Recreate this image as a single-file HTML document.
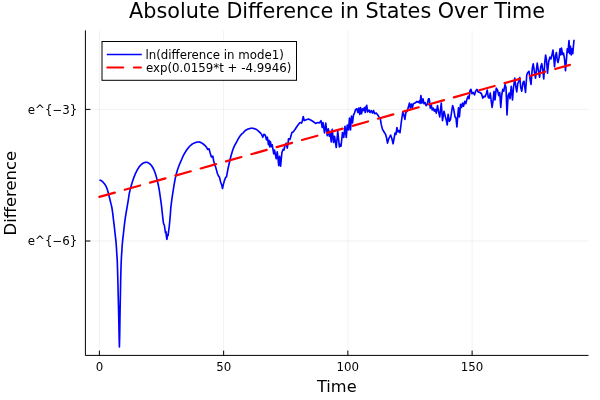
<!DOCTYPE html>
<html><head><meta charset="utf-8"><title>Absolute Difference in States Over Time</title>
<style>
html,body{margin:0;padding:0;background:#fff;}
svg{display:block;}
text{font-family:"DejaVu Sans","Liberation Sans",sans-serif;fill:#000;}
</style></head><body>
<svg width="600" height="400" viewBox="0 0 600 400">
<rect width="600" height="400" fill="#fff"/>

<g stroke="#000" stroke-opacity="0.1" stroke-width="0.55" fill="none">
<line x1="99.40" y1="30.4" x2="99.40" y2="355.4"/>
<line x1="223.64" y1="30.4" x2="223.64" y2="355.4"/>
<line x1="347.87" y1="30.4" x2="347.87" y2="355.4"/>
<line x1="472.11" y1="30.4" x2="472.11" y2="355.4"/>
<line x1="85.4" y1="109.4" x2="588.5" y2="109.4"/>
<line x1="85.4" y1="241.0" x2="588.5" y2="241.0"/>
</g>
<g stroke="#000" stroke-width="1" fill="none">
<line x1="85.4" y1="355.4" x2="588.5" y2="355.4"/>
<line x1="85.4" y1="30.4" x2="85.4" y2="355.4"/>
<line x1="99.40" y1="355.4" x2="99.40" y2="350.60"/>
<line x1="223.64" y1="355.4" x2="223.64" y2="350.60"/>
<line x1="347.87" y1="355.4" x2="347.87" y2="350.60"/>
<line x1="472.11" y1="355.4" x2="472.11" y2="350.60"/>
<line x1="85.4" y1="109.4" x2="90.4" y2="109.4"/>
<line x1="85.4" y1="241.0" x2="90.4" y2="241.0"/>
</g>
<text x="99.40" y="371.45" font-size="11.8" text-anchor="middle">0</text>
<text x="223.64" y="371.45" font-size="11.8" text-anchor="middle">50</text>
<text x="347.87" y="371.45" font-size="11.8" text-anchor="middle">100</text>
<text x="472.11" y="371.45" font-size="11.8" text-anchor="middle">150</text>
<text x="77.3" y="113.60" font-size="11.8" text-anchor="end">e^{−3}</text>
<text x="77.3" y="245.20" font-size="11.8" text-anchor="end">e^{−6}</text>
<text x="336.8" y="391.7" font-size="16.2" text-anchor="middle">Time</text>
<text transform="translate(15.9,193.2) rotate(-90)" font-size="16.4" text-anchor="middle">Difference</text>
<text x="337.1" y="18.1" font-size="20.75" text-anchor="middle">Absolute Difference in States Over Time</text>
<polyline points="99.50,180.00 99.84,180.12 100.17,180.24 100.51,180.35 100.85,180.47 101.18,180.62 101.50,180.80 101.86,181.06 102.21,181.36 102.55,181.69 102.88,182.03 103.20,182.37 103.50,182.70 103.74,182.97 103.97,183.23 104.19,183.49 104.40,183.75 104.60,184.02 104.80,184.30 105.00,184.59 105.19,184.88 105.37,185.17 105.55,185.47 105.73,185.78 105.90,186.10 106.08,186.46 106.26,186.84 106.43,187.22 106.59,187.61 106.75,188.01 106.90,188.40 107.05,188.79 107.18,189.18 107.32,189.58 107.45,189.98 107.57,190.38 107.70,190.80 107.84,191.26 107.97,191.74 108.11,192.22 108.24,192.71 108.37,193.20 108.50,193.70 108.63,194.21 108.76,194.72 108.89,195.24 109.02,195.77 109.16,196.32 109.30,196.90 109.50,197.72 109.71,198.61 109.94,199.54 110.16,200.48 110.38,201.41 110.60,202.30 110.80,203.09 111.00,203.87 111.20,204.63 111.39,205.39 111.58,206.18 111.75,207.00 111.93,207.98 112.10,208.99 112.26,210.02 112.41,211.08 112.56,212.14 112.70,213.20 112.84,214.32 112.98,215.45 113.11,216.59 113.24,217.73 113.37,218.87 113.50,220.00 113.63,221.11 113.77,222.21 113.90,223.31 114.04,224.41 114.17,225.51 114.30,226.60 114.42,227.66 114.53,228.70 114.65,229.74 114.76,230.79 114.88,231.87 115.00,233.00 115.16,234.41 115.33,235.87 115.51,237.37 115.68,238.91 115.85,240.45 116.00,242.00 116.14,243.65 116.27,245.33 116.38,247.04 116.49,248.73 116.60,250.39 116.70,252.00 116.79,253.36 116.88,254.64 116.96,255.90 117.05,257.18 117.12,258.53 117.20,260.00 117.30,262.20 117.38,264.57 117.47,267.07 117.55,269.67 117.62,272.32 117.70,275.00 117.79,278.17 117.87,281.45 117.96,284.82 118.04,288.23 118.12,291.63 118.20,295.00 118.28,298.33 118.37,301.67 118.46,305.00 118.54,308.33 118.62,311.67 118.70,315.00 118.77,318.33 118.84,321.67 118.91,325.00 118.97,328.33 119.03,331.67 119.10,335.00 119.40,346.90 119.70,335.00 119.75,331.67 119.80,328.33 119.84,325.00 119.89,321.67 119.94,318.33 120.00,315.00 120.06,311.67 120.13,308.33 120.19,305.00 120.26,301.67 120.33,298.33 120.40,295.00 120.46,291.63 120.53,288.23 120.59,284.82 120.65,281.45 120.72,278.17 120.80,275.00 120.87,272.34 120.95,269.73 121.02,267.18 121.11,264.70 121.20,262.30 121.30,260.00 121.39,258.20 121.48,256.48 121.58,254.80 121.69,253.18 121.79,251.58 121.90,250.00 121.99,248.62 122.08,247.28 122.18,245.97 122.27,244.67 122.38,243.35 122.50,242.00 122.64,240.55 122.80,239.10 122.96,237.64 123.14,236.14 123.32,234.60 123.50,233.00 123.73,230.95 123.96,228.78 124.21,226.54 124.46,224.29 124.73,222.09 125.00,220.00 125.25,218.26 125.51,216.57 125.78,214.92 126.05,213.28 126.32,211.65 126.60,210.00 126.88,208.31 127.18,206.59 127.48,204.87 127.77,203.17 128.04,201.54 128.30,200.00 128.48,198.84 128.63,197.75 128.77,196.70 128.92,195.66 129.09,194.60 129.30,193.50 129.58,192.20 129.89,190.87 130.22,189.51 130.57,188.15 130.94,186.81 131.30,185.50 131.64,184.30 131.99,183.12 132.34,181.95 132.71,180.79 133.09,179.65 133.50,178.50 133.92,177.36 134.36,176.21 134.82,175.07 135.29,173.95 135.79,172.86 136.30,171.80 136.79,170.85 137.29,169.91 137.81,168.99 138.35,168.11 138.91,167.27 139.50,166.50 140.04,165.86 140.59,165.25 141.17,164.68 141.76,164.15 142.37,163.69 143.00,163.30 143.59,163.00 144.21,162.73 144.84,162.52 145.47,162.36 146.10,162.29 146.70,162.30 147.28,162.41 147.85,162.61 148.41,162.88 148.96,163.21 149.49,163.59 150.00,164.00 150.56,164.53 151.10,165.13 151.61,165.79 152.09,166.50 152.56,167.24 153.00,168.00 153.46,168.87 153.89,169.79 154.30,170.75 154.68,171.74 155.04,172.76 155.40,173.80 155.79,175.02 156.17,176.29 156.52,177.59 156.86,178.91 157.19,180.22 157.50,181.50 157.78,182.68 158.05,183.84 158.30,184.99 158.54,186.14 158.78,187.31 159.00,188.50 159.22,189.80 159.43,191.11 159.63,192.45 159.82,193.79 160.01,195.15 160.20,196.50 160.40,197.89 160.61,199.29 160.81,200.69 161.01,202.10 161.21,203.54 161.40,205.00 161.60,206.63 161.79,208.31 161.97,210.02 162.15,211.72 162.32,213.39 162.50,215.00 162.65,216.39 162.81,217.73 162.95,219.06 163.10,220.37 163.25,221.68 163.40,223.00 164.40,225.50 165.50,233.00 166.00,231.80 166.40,236.50 166.90,239.30 167.60,234.50 168.10,235.50 168.70,230.50 169.30,226.00 169.47,224.14 169.65,222.24 169.83,220.35 170.00,218.48 170.16,216.69 170.30,215.00 170.39,213.76 170.47,212.59 170.54,211.47 170.61,210.36 170.69,209.21 170.80,208.00 170.96,206.49 171.14,204.91 171.34,203.29 171.56,201.65 171.78,200.02 172.00,198.40 172.23,196.78 172.47,195.12 172.72,193.47 172.97,191.85 173.22,190.28 173.45,188.80 173.63,187.67 173.80,186.59 173.98,185.55 174.15,184.53 174.32,183.52 174.50,182.50 174.68,181.52 174.85,180.55 175.03,179.58 175.22,178.63 175.41,177.70 175.60,176.80 175.77,176.04 175.95,175.31 176.13,174.60 176.31,173.90 176.50,173.20 176.70,172.50 176.90,171.81 177.10,171.14 177.31,170.47 177.53,169.79 177.76,169.11 178.00,168.40 178.30,167.55 178.63,166.67 178.97,165.77 179.32,164.88 179.67,164.02 180.00,163.20 180.27,162.56 180.54,161.94 180.81,161.35 181.08,160.76 181.34,160.18 181.60,159.60 181.83,159.05 182.05,158.51 182.26,157.98 182.48,157.44 182.72,156.89 183.00,156.30 183.42,155.47 183.89,154.58 184.40,153.66 184.93,152.74 185.47,151.84 186.00,151.00 186.48,150.28 186.97,149.57 187.46,148.89 187.96,148.23 188.48,147.60 189.00,147.00 189.48,146.48 189.97,145.98 190.46,145.51 190.97,145.06 191.48,144.64 192.00,144.25 192.48,143.93 192.98,143.63 193.48,143.37 193.98,143.12 194.49,142.90 195.00,142.70 195.50,142.53 196.00,142.37 196.51,142.23 197.01,142.12 197.51,142.04 198.00,142.00 198.43,142.00 198.86,142.03 199.29,142.09 199.70,142.17 200.11,142.28 200.50,142.40 200.86,142.54 201.20,142.70 201.53,142.88 201.85,143.08 202.18,143.29 202.50,143.50 202.84,143.74 203.18,143.99 203.51,144.25 203.85,144.52 204.17,144.81 204.50,145.10 204.84,145.43 205.18,145.77 205.51,146.12 205.84,146.48 206.17,146.85 206.50,147.20 207.60,149.40 209.10,148.90 210.60,154.60 211.40,157.00 212.80,156.20 213.75,161.25 215.60,166.90 217.50,173.75 218.75,176.40 219.40,177.00 220.60,181.90 221.90,185.60 222.50,188.50 223.40,184.40 224.40,180.60 225.60,177.50 226.50,176.90 227.75,170.00 228.02,168.75 228.29,167.50 228.56,166.25 228.84,165.00 229.11,163.75 229.40,162.50 229.69,161.25 229.98,160.00 230.27,158.74 230.58,157.49 230.90,156.24 231.25,155.00 231.63,153.72 232.02,152.41 232.44,151.11 232.86,149.84 233.30,148.62 233.75,147.50 234.12,146.68 234.50,145.90 234.89,145.15 235.27,144.44 235.65,143.76 236.00,143.10 236.26,142.60 236.51,142.13 236.75,141.68 236.99,141.23 237.24,140.78 237.50,140.30 237.81,139.73 238.14,139.13 238.48,138.51 238.82,137.91 239.16,137.33 239.50,136.80 239.78,136.39 240.06,136.00 240.33,135.63 240.62,135.28 240.90,134.94 241.20,134.60 241.49,134.30 241.78,134.01 242.09,133.74 242.39,133.47 242.70,133.19 243.00,132.90 243.32,132.56 243.64,132.20 243.97,131.83 244.29,131.47 244.64,131.12 245.00,130.80 245.39,130.51 245.79,130.23 246.21,129.97 246.64,129.73 247.07,129.50 247.50,129.30 247.91,129.13 248.33,128.97 248.75,128.83 249.17,128.71 249.59,128.60 250.00,128.50 250.38,128.41 250.76,128.33 251.14,128.27 251.52,128.22 251.91,128.19 252.30,128.20 252.74,128.25 253.20,128.34 253.67,128.46 254.13,128.59 254.58,128.75 255.00,128.90 255.36,129.04 255.71,129.19 256.04,129.35 256.37,129.52 256.69,129.71 257.00,129.90 257.31,130.11 257.61,130.33 257.90,130.56 258.19,130.80 258.47,131.05 258.75,131.30 259.02,131.56 259.29,131.82 259.55,132.10 259.81,132.37 260.06,132.64 260.30,132.90 260.51,133.12 260.71,133.34 260.91,133.56 261.11,133.77 261.30,133.98 261.50,134.20 262.80,137.30 263.90,134.30 265.30,135.20 266.50,139.80 267.35,137.20 268.45,144.60 269.05,140.40 269.80,147.00 270.35,141.50 271.30,146.60 272.20,144.80 273.75,153.75 274.50,150.00 276.25,158.75 277.25,151.90 278.75,165.60 279.60,156.25 280.60,166.25 281.90,152.50 283.10,149.40 284.00,150.00 285.00,145.00 286.25,143.10 287.25,148.10 288.10,143.10 288.50,138.75 290.00,139.40 291.90,132.50 293.10,131.90 295.00,129.50 296.25,127.50 298.00,125.00 300.00,122.50 301.50,123.10 302.25,121.25 303.25,116.50 304.25,120.60 306.25,119.75 308.50,119.00 310.60,120.00 313.10,121.50 315.60,123.40 317.50,122.50 319.40,122.90 321.00,120.60 322.25,127.50 323.00,122.50 324.50,133.00 325.75,123.10 327.25,135.60 328.25,128.75 329.40,136.25 330.00,131.25 331.25,141.90 332.25,129.40 333.50,142.50 334.50,136.25 336.25,147.50 337.75,131.25 339.40,146.90 340.25,144.40 341.00,146.25 342.50,132.50 343.75,137.50 345.00,126.25 346.25,137.50 347.25,125.00 348.50,130.00 349.50,118.10 350.50,130.00 351.50,116.00 352.50,123.00 353.50,115.00 354.50,113.10 355.60,109.40 356.90,108.75 357.90,112.50 358.75,108.10 359.75,114.40 360.50,107.50 361.50,113.75 362.50,108.75 363.50,110.60 364.40,107.50 365.25,112.50 366.00,106.90 366.75,105.25 367.50,111.90 369.00,110.00 370.00,112.50 371.25,110.60 372.50,113.10 373.50,110.60 374.75,113.75 376.25,113.10 377.75,115.00 379.00,116.90 380.30,118.50 381.25,124.40 382.50,129.40 384.40,132.50 385.60,134.40 386.50,137.50 387.50,143.10 388.75,138.75 390.60,135.00 391.90,138.75 393.10,143.75 394.00,138.75 395.00,133.10 396.00,134.40 396.90,127.50 397.90,131.90 399.00,130.60 400.00,132.75 401.25,122.50 402.75,112.20 403.75,114.50 404.90,119.40 405.90,112.50 407.25,111.20 408.25,107.50 409.45,103.10 410.40,108.10 411.40,104.00 412.40,107.50 413.30,103.75 415.00,103.10 416.90,101.50 418.30,102.40 419.40,100.90 420.10,103.40 420.90,95.60 421.90,103.10 423.00,98.75 424.00,103.75 425.00,102.50 426.00,105.60 427.25,104.40 428.50,98.75 429.25,98.75 430.25,108.10 431.25,105.00 432.25,110.00 433.25,108.10 434.40,111.25 435.25,109.40 436.25,113.10 437.50,105.60 438.50,111.25 439.75,116.90 441.25,103.10 442.50,120.60 444.00,111.25 445.25,116.25 446.25,120.00 447.25,125.00 448.10,114.40 449.40,121.25 450.50,119.40 451.50,112.50 452.60,105.60 453.75,109.50 455.00,116.90 456.00,118.10 456.90,126.90 457.75,116.25 458.50,107.80 459.40,117.00 460.50,104.40 461.50,107.50 462.50,103.10 463.50,106.25 464.75,101.25 465.75,103.75 466.90,99.40 468.10,96.25 469.00,98.75 470.00,90.60 471.00,89.40 472.00,93.75 473.25,92.50 474.50,95.00 475.60,91.25 476.90,89.40 478.10,91.90 480.00,92.50 481.50,93.75 482.75,98.10 484.00,96.25 485.00,96.90 486.25,93.75 487.25,90.00 488.25,97.50 489.25,98.10 490.25,93.10 491.25,101.25 492.10,107.50 493.10,100.60 494.00,91.25 495.00,100.00 496.25,88.10 497.50,90.00 498.75,95.60 499.75,92.50 500.75,107.50 501.75,95.00 502.75,89.40 503.75,91.25 505.00,84.60 506.00,87.50 507.00,115.00 508.10,95.50 509.20,93.00 510.00,98.75 511.25,86.25 512.50,100.00 513.50,87.50 514.75,78.10 515.75,86.25 516.75,91.90 517.75,83.75 518.75,81.25 519.75,77.50 520.75,87.50 521.75,91.25 523.00,82.50 524.00,81.25 525.50,92.50 526.75,75.00 527.75,72.50 529.00,71.25 530.00,78.75 531.00,84.40 532.25,68.75 533.25,63.75 534.50,72.50 535.50,78.10 536.50,68.75 537.25,63.10 538.35,70.50 539.60,77.20 540.75,66.80 541.75,63.70 542.75,70.00 543.75,79.00 544.75,62.50 545.60,55.00 546.50,60.00 547.50,73.10 548.75,61.25 549.90,57.20 550.90,59.00 551.90,55.30 553.00,50.00 553.75,57.50 554.50,66.80 555.50,56.00 556.40,52.50 557.25,60.00 558.00,62.50 559.00,58.10 560.00,48.75 560.75,55.00 561.50,48.10 562.50,54.40 563.50,53.10 564.50,58.75 565.50,70.60 566.50,58.75 567.25,48.75 568.00,52.50 569.00,40.60 569.75,53.75 570.50,46.25 571.25,55.00 572.00,48.75 572.75,53.75 574.00,39.75" fill="none" stroke="#0000ff" stroke-width="1.65" stroke-linejoin="round" stroke-linecap="butt"/>
<line x1="99.40" y1="196.90" x2="569.90" y2="64.82" stroke="#ff0000" stroke-width="2.2" stroke-linecap="round" stroke-dasharray="16.0 10.3"/>
<rect x="102" y="41.5" width="194.5" height="38.8" fill="#fff" stroke="#000" stroke-width="1"/>
<line x1="106.8" y1="54.5" x2="141.8" y2="54.5" stroke="#0000ff" stroke-width="1.6"/>
<line x1="107.4" y1="67.5" x2="140.85" y2="67.5" stroke="#ff0000" stroke-width="2.2" stroke-linecap="round" stroke-dasharray="15.8 10.75"/>
<text x="145.4" y="58.7" font-size="11.8">ln(difference in mode1)</text>
<text x="145.9" y="71.8" font-size="11.8">exp(0.0159*t + -4.9946)</text>
</svg></body></html>
